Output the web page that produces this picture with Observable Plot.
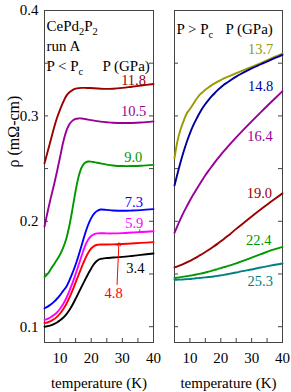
<!DOCTYPE html>
<html><head><meta charset="utf-8">
<script src="https://cdn.jsdelivr.net/npm/d3@7"></script>
<script src="https://cdn.jsdelivr.net/npm/@observablehq/plot@0.6"></script>
<style>
body{margin:0;background:#fff;}
#wrap{display:flex;width:291px;height:392px;}
#wrap svg{display:block;}
#wrap svg, #wrap svg text, #wrap svg tspan{font-family:"Liberation Serif","Times New Roman",serif !important;font-weight:normal;}
</style></head><body><div id="wrap"></div>
<script>
// temperature grid (K)
const tempK = [5,6,7,8,9,10,11,12,13,14,15,16,17,18,19,20,21,22,23,25,27,30,33,36,40];

// resistivity (mOhm-cm), P < Pc
const rho_11_8 = [.255,.266,.277,.288,.298,.306,.313,.319,.3225,.3245,.3258,.3264,.3266,.3266,.3265,.3264,.3262,.326,.3258,.3256,.3258,.3266,.3277,.3288,.3302];
const rho_10_5 = [.195,.209,.222,.234,.247,.261,.275,.2855,.292,.2955,.2972,.2976,.2975,.297,.2965,.296,.2955,.295,.2946,.294,.2935,.2932,.2933,.2937,.2948];
const rho_9_0  = [.147,.150,.1545,.159,.1635,.1685,.175,.1835,.196,.212,.229,.243,.2515,.2555,.2567,.2566,.2561,.2555,.2549,.2538,.253,.2524,.2524,.2527,.2535];
const rho_7_3  = [.1175,.119,.121,.1235,.1265,.130,.134,.138,.144,.151,.159,.168,.178,.188,.1965,.203,.2075,.210,.2112,.2108,.2103,.21,.2102,.2106,.2115];
const rho_5_9  = [.1065,.1075,.109,.111,.1135,.117,.1215,.127,.134,.1415,.150,.159,.168,.1765,.1825,.186,.1878,.1885,.1887,.1885,.1885,.1888,.1893,.1898,.1906];
const rho_4_8  = [.1035,.104,.1053,.107,.1093,.1125,.1165,.1215,.1275,.1345,.142,.1495,.157,.164,.170,.1742,.1767,.1777,.178,.178,.1781,.1785,.179,.1795,.1802];
const rho_3_4  = [.100,.1005,.1013,.1025,.104,.106,.1085,.1117,.1158,.1208,.1265,.1325,.1385,.1443,.150,.1553,.1598,.1628,.1643,.1652,.1656,.1662,.1671,.1681,.1695];

// resistivity (mOhm-cm), P > Pc
const rho_13_7 = [.260,.2765,.2875,.2955,.3025,.3065,.311,.3155,.3195,.3222,.3248,.327,.329,.3308,.3325,.334,.3355,.3368,.338,.3405,.343,.3465,.350,.354,.359];
const rho_14_8 = [.234,.2455,.2565,.2665,.2755,.2835,.2905,.2965,.302,.307,.3113,.315,.3185,.3215,.3245,.327,.3295,.3315,.3335,.3373,.3405,.345,.349,.353,.358];
const rho_16_4 = [.189,.196,.2025,.2087,.2143,.2197,.2249,.2298,.2345,.2391,.2436,.2478,.2518,.2557,.2594,.263,.2665,.2699,.2732,.2796,.2858,.2948,.3036,.3122,.3235];
const rho_19_0 = [.1562,.1572,.1583,.1596,.161,.1624,.164,.1656,.1673,.169,.1708,.1727,.1747,.1767,.1788,.181,.1832,.1855,.1878,.1928,.1975,.2045,.2115,.218,.2265];
const rho_22_4 = [.1462,.1466,.147,.1475,.1479,.1484,.1489,.1495,.1501,.1507,.1514,.1522,.153,.1539,.1547,.1556,.1565,.1573,.1582,.160,.1622,.1655,.1688,.1721,.1757];
const rho_25_3 = [.1445,.1446,.1447,.1449,.1451,.1453,.1456,.1459,.1462,.1465,.1468,.1471,.1474,.1478,.1482,.1487,.1492,.1497,.1503,.1514,.1527,.1543,.1562,.158,.160];

// pressure labels (GPa)
const pLow  = ["11.8","10.5","9.0","7.3","5.9","4.8","3.4"];
const pHigh = ["13.7","14.8","16.4","19.0","22.4","25.3"];

// tick values
const yTickLabels = [0.1,0.2,0.3,0.4];
const yTicks = [0.1,0.15,0.2,0.25,0.3,0.35];
const xTickLabels = [10,20,30,40];
const xTicks = [10,15,20,25,30,35];

// styles (separate from data)
const colLow  = ["#990000","#990099","#009900","#0000ff","#ff00ff","#ff0000","#000000"];
const colHigh = ["#999900","#000099","#990099","#990000","#009900","#008080"];

// label anchors (data space)
const labLowT  = [33.6,33.6,33.5,33.7,33.8,27.2,34.2];
const labLowV  = [.3333,.3042,.2608,.2181,.1976,.1312,.1549];
const labHighT = [32.9,32.9,32.7,32.5,32.3,32.8];
const labHighV = [.3627,.3279,.2805,.2267,.1818,.1432];
const arrow48 = [{x1:28.3,y1:.140,x2:28.9,y2:.1795}];
const tick59 = [{x1:35.6,y1:.1925,x2:35.6,y2:.1898}];

const seriesLow  = [rho_11_8,rho_10_5,rho_9_0,rho_7_3,rho_5_9,rho_4_8,rho_3_4];
const seriesHigh = [rho_13_7,rho_14_8,rho_16_4,rho_19_0,rho_22_4,rho_25_3];
const rows = (labels, series) => labels.flatMap((p,i) => tempK.map((T,j) => ({p, T, rho: series[i][j]})));
const dataLow = rows(pLow, seriesLow);
const dataHigh = rows(pHigh, seriesHigh);

const H = 392, MT = 10, MB = 50, FH = H - MT - MB;
const frameCol = "#444";
const font = "Liberation Serif";

function panel({width, ml, mr, data, labels, colors, labT, labV, left}) {
  const FW = width - ml - mr;
  const marks = [
    Plot.frame({stroke: frameCol}),
    Plot.tickY(yTicks, {y: d => d, insetRight: FW - 4, stroke: frameCol}),
    Plot.tickY(yTicks, {y: d => d, insetLeft: FW - 4, stroke: frameCol}),
    Plot.tickX(xTicks, {x: d => d, insetTop: FH - 4, stroke: frameCol}),
    Plot.axisX(xTickLabels, {tickSize: 0, tickPadding: 10, tickFormat: d => String(d), label: null, fontSize: 15}),
    Plot.line(data, {x: "T", y: "rho", z: "p", stroke: "p", strokeWidth: 1.9, curve: "catmull-rom"}),
    Plot.text(labels, {x: labT, y: labV, text: d => d, fill: d => d, fontSize: 14.5, lineAnchor: "middle"}),
    Plot.text(["temperature (K)"], {frameAnchor: "bottom", dy: 41, lineAnchor: "middle", fontSize: 15})
  ];
  if (left) {
    marks.push(
      Plot.axisY(yTickLabels, {tickSize: 0, tickPadding: 6, tickFormat: ".1f", label: null, fontSize: 15}),
      Plot.text(["ρ (mΩ-cm)"], {frameAnchor: "left", dx: -31, dy: -9, rotate: -90, lineAnchor: "middle", fontSize: 16}),
      Plot.text(["CePd{2}P{2}"], {frameAnchor: "top-left", dx: 2, dy: 20, lineAnchor: "bottom", textAnchor: "start", fontSize: 15}),
      Plot.text(["run A"], {frameAnchor: "top-left", dx: 2, dy: 40.5, lineAnchor: "bottom", textAnchor: "start", fontSize: 15}),
      Plot.text(["P < P{c}"], {frameAnchor: "top-left", dx: 2, dy: 60, lineAnchor: "bottom", textAnchor: "start", fontSize: 15}),
      Plot.text(["P (GPa)"], {frameAnchor: "top-left", dx: 58, dy: 60, lineAnchor: "bottom", textAnchor: "start", fontSize: 15}),
      Plot.arrow(arrow48, {x1: "x1", y1: "y1", x2: "x2", y2: "y2", stroke: "#ff0000", strokeWidth: 1, headLength: 5}),
      Plot.link(tick59, {x1: "x1", y1: "y1", x2: "x2", y2: "y2", stroke: "#ff00ff", strokeWidth: 1})
    );
  } else {
    marks.push(
      Plot.text(["P > P{c}"], {frameAnchor: "top-left", dx: 2, dy: 23, lineAnchor: "bottom", textAnchor: "start", fontSize: 15}),
      Plot.text(["P (GPa)"], {frameAnchor: "top-left", dx: 51, dy: 23, lineAnchor: "bottom", textAnchor: "start", fontSize: 15})
    );
  }
  return Plot.plot({
    width, height: H, marginLeft: ml, marginRight: mr, marginTop: MT, marginBottom: MB,
    x: {domain: [5, 40], axis: null},
    y: {domain: [0.085, 0.4], axis: null},
    color: {domain: labels, range: colors},
    style: {fontFamily: font, fontSize: "15px", color: "#000", background: "transparent", overflow: "visible"},
    marks
  });
}

function subscripts(svg) {
  d3.select(svg).selectAll("text").each(function() {
    const t = this.textContent;
    if (!t.includes("{")) return;
    const parts = t.split(/(\{[^}]*\})/).filter(s => s);
    const sel = d3.select(this);
    sel.text(null);
    let low = false;
    for (const p of parts) {
      if (p.startsWith("{")) {
        sel.append("tspan").attr("dy", low ? 0 : 4).attr("font-size", "10.5px").text(p.slice(1, -1));
        low = true;
      } else {
        sel.append("tspan").attr("dy", low ? -4 : 0).text(p);
        low = false;
      }
    }
  });
}

const wrap = document.getElementById("wrap");
const svgL = panel({width: 160, ml: 44, mr: 7, data: dataLow, labels: pLow, colors: colLow, labT: labLowT, labV: labLowV, left: true});
const svgR = panel({width: 131, ml: 14, mr: 9, data: dataHigh, labels: pHigh, colors: colHigh, labT: labHighT, labV: labHighV, left: false});
for (const s of [svgL, svgR]) {
  subscripts(s);
  s.setAttribute("font-family", "Liberation Serif");
  d3.select(s).selectAll("g").attr("font-family", null);
  d3.select(s).selectAll("text, tspan")
    .attr("font-family", "Liberation Serif")
    .style("font-family", "'Liberation Serif', serif")
    .style("font-weight", "normal");
}
wrap.appendChild(svgL);
wrap.appendChild(svgR);
</script>
</body></html>
